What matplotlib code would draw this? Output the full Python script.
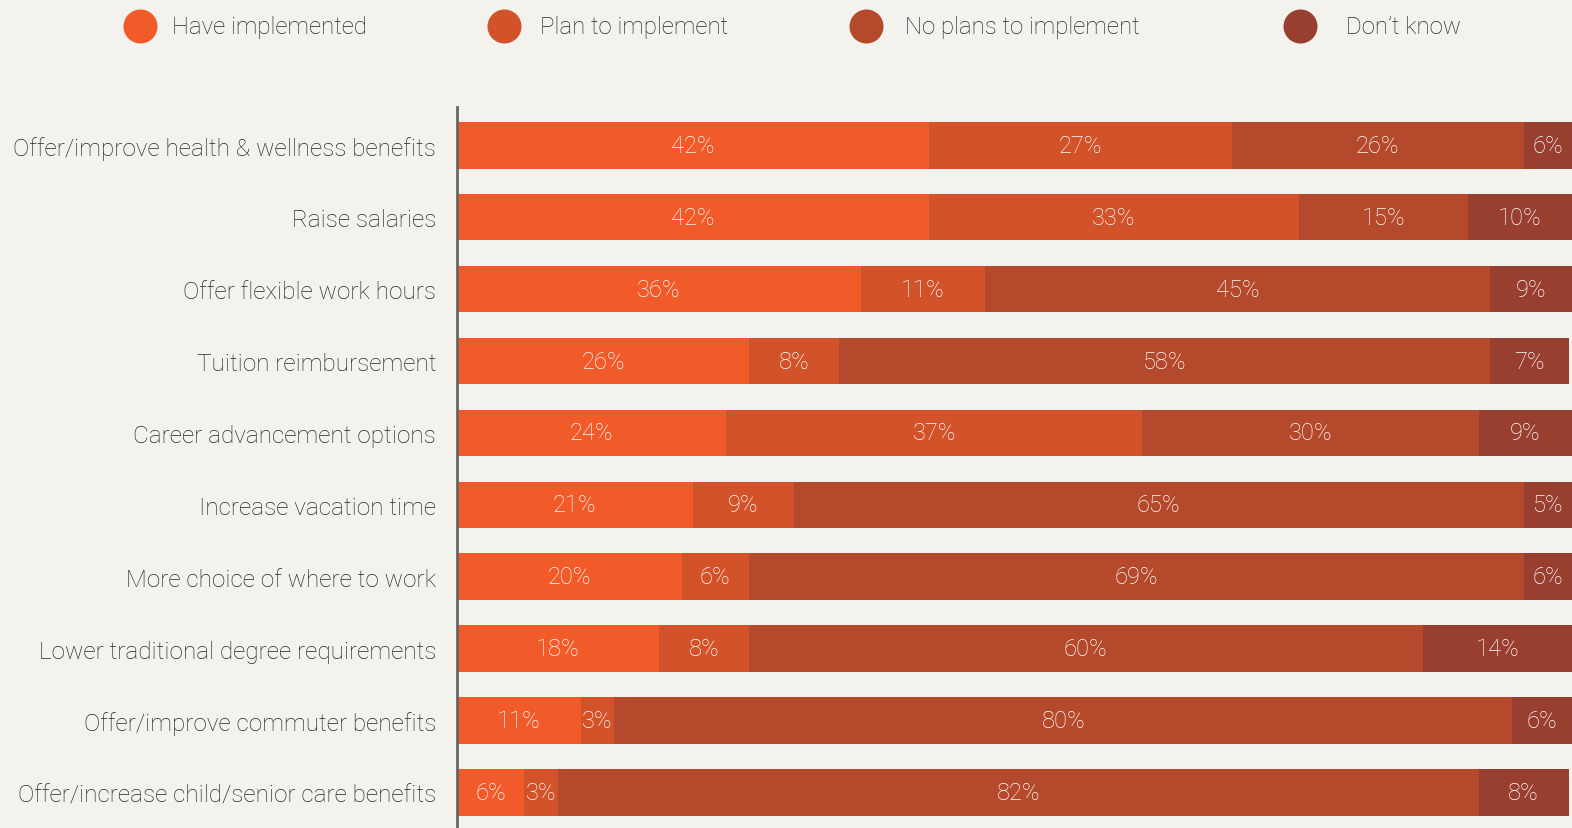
import numpy as np
import matplotlib
matplotlib.use('Agg')
import matplotlib.pyplot as plt

plt.rcParams['font.family'] = ['Roboto', 'DejaVu Sans']

actions = ['Offer/improve health & wellness benefits', 'Raise salaries',
           'Offer flexible work hours', 'Tuition reimbursement',
           'Career advancement options', 'Increase vacation time',
           'More choice of where to work', 'Lower traditional degree requirements',
           'Offer/improve commuter benefits', 'Offer/increase child/senior care benefits']

have_implemented = [42, 42, 36, 26, 24, 21, 20, 18, 11, 6]
plan_to_implement = [27, 33, 11, 8, 37, 9, 6, 8, 3, 3]
no_plans = [26, 15, 45, 58, 30, 65, 69, 60, 80, 82]
dont_know = [6, 10, 9, 7, 9, 5, 6, 14, 6, 8]

series = ['Have implemented', 'Plan to implement', 'No plans to implement', "Don\u2019t know"]
colors = ['#F15A29', '#D2522A', '#B5492C', '#983F2F']

bg = '#F4F2ED'
text_col = '#262626'

fig = plt.figure(figsize=(15.72, 8.29), dpi=100, facecolor=bg)
ax = fig.add_axes([457 / 1572, 0, 1 - 457 / 1572, 721 / 829])
ax.set_facecolor(bg)

xmax = 99.3
y = np.arange(len(actions))
left = np.zeros(len(actions))
for name, vals, c in zip(series, [have_implemented, plan_to_implement, no_plans, dont_know], colors):
    vals = np.array(vals, dtype=float)
    ax.barh(y, vals, left=left, height=0.65, color=c, linewidth=0)
    for yi, l, v in zip(y, left, vals):
        cx = (l + min(l + v, xmax)) / 2
        ax.text(cx, yi, '%d%%' % v, ha='center', va='center', color='#FFFFFF',
                fontsize=17, fontweight='light')
    left += vals

ax.set_xlim(0, xmax)
ax.set_ylim(9.49, -0.53)
ax.set_yticks(y)
ax.set_yticklabels(actions, fontsize=17.5, color=text_col, fontweight='light')
ax.tick_params(axis='y', length=0, pad=15)
ax.set_xticks([])
for s in ['top', 'right', 'bottom']:
    ax.spines[s].set_visible(False)
ax.spines['left'].set_color('#666666')
ax.spines['left'].set_linewidth(2)

# legend row across the top
lax = fig.add_axes([0, 0, 1, 1], facecolor='none')
lax.set_xlim(0, 1572)
lax.set_ylim(829, 0)
lax.axis('off')
dot_x = [140, 504, 866, 1300]
text_x = [172, 540, 905, 1346]
for dx, tx, name, c in zip(dot_x, text_x, series, colors):
    lax.scatter([dx], [27], s=600, color=c, linewidths=0)
    lax.text(tx, 27, name, ha='left', va='center', fontsize=17.3,
             color=text_col, fontweight='light')

fig.savefig('out.png', dpi=100, facecolor=bg)
